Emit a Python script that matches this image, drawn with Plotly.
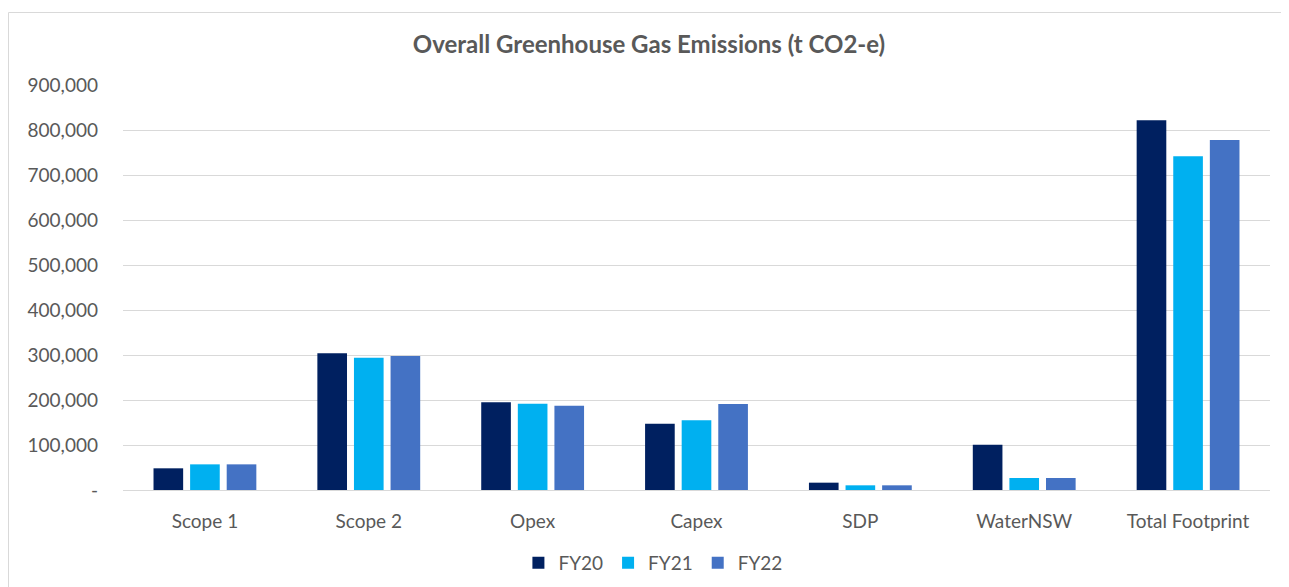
import plotly.graph_objects as go

categories = ["Scope 1", "Scope 2", "Opex", "Capex", "SDP", "WaterNSW", "Total Footprint"]
fy20 = [48200, 303700, 194800, 147400, 16300, 100700, 821500]
fy21 = [57000, 294000, 191900, 154800, 10400, 26700, 741500]
fy22 = [57000, 297800, 187400, 191100, 10400, 26700, 777800]
series_names = ["FY20", "FY21", "FY22"]
colors = ["#002060", "#00B0F0", "#4472C4"]
tick_vals = [0, 100000, 200000, 300000, 400000, 500000, 600000, 700000, 800000, 900000]
tick_text = ["-", "100,000", "200,000", "300,000", "400,000", "500,000", "600,000", "700,000", "800,000", "900,000"]

FONT = "Lato, 'Open Sans', sans-serif"
fig = go.Figure()
for name, vals, c in zip(series_names, [fy20, fy21, fy22], colors):
    fig.add_trace(go.Bar(x=categories, y=vals, name=name, marker=dict(color=c, line=dict(width=0))))

fig.update_layout(
    width=1281, height=579,
    paper_bgcolor="white", plot_bgcolor="white",
    margin=dict(l=115, r=19, t=77, b=97, autoexpand=False),
    barmode="group", bargap=0.33, bargroupgap=0.19,
    title=dict(text="<b>Overall Greenhouse Gas Emissions (t CO2-e)</b>", x=0.5004, xanchor="center",
               y=0.936, yanchor="middle", font=dict(family=FONT, size=24, color="#595959")),
    font=dict(family=FONT, size=19, color="#595959"),
    legend=dict(orientation="h", x=0.462, xanchor="center", y=-0.133, yanchor="top",
                font=dict(size=19, color="#595959"), traceorder="normal", itemwidth=30),
    showlegend=True,
)
fig.update_yaxes(range=[0, 900000], tickvals=tick_vals, ticktext=tick_text,
                 showgrid=True, gridcolor="#D9D9D9", gridwidth=1, zeroline=False,
                 showline=False, ticks="", ticklabelstandoff=24,
                 tickfont=dict(size=19, color="#595959"))
fig.update_xaxes(showline=True, linecolor="#D9D9D9", linewidth=1, ticks="",
                 ticklabelstandoff=14, tickfont=dict(size=19, color="#595959"))
fig.add_shape(type="rect", xref="paper", yref="paper", x0=-0.0998, x1=1.03, y0=-0.4, y1=1.179,
              line=dict(color="#D9D9D9", width=1), fillcolor="rgba(0,0,0,0)", layer="below")
fig.write_html("out.html")
